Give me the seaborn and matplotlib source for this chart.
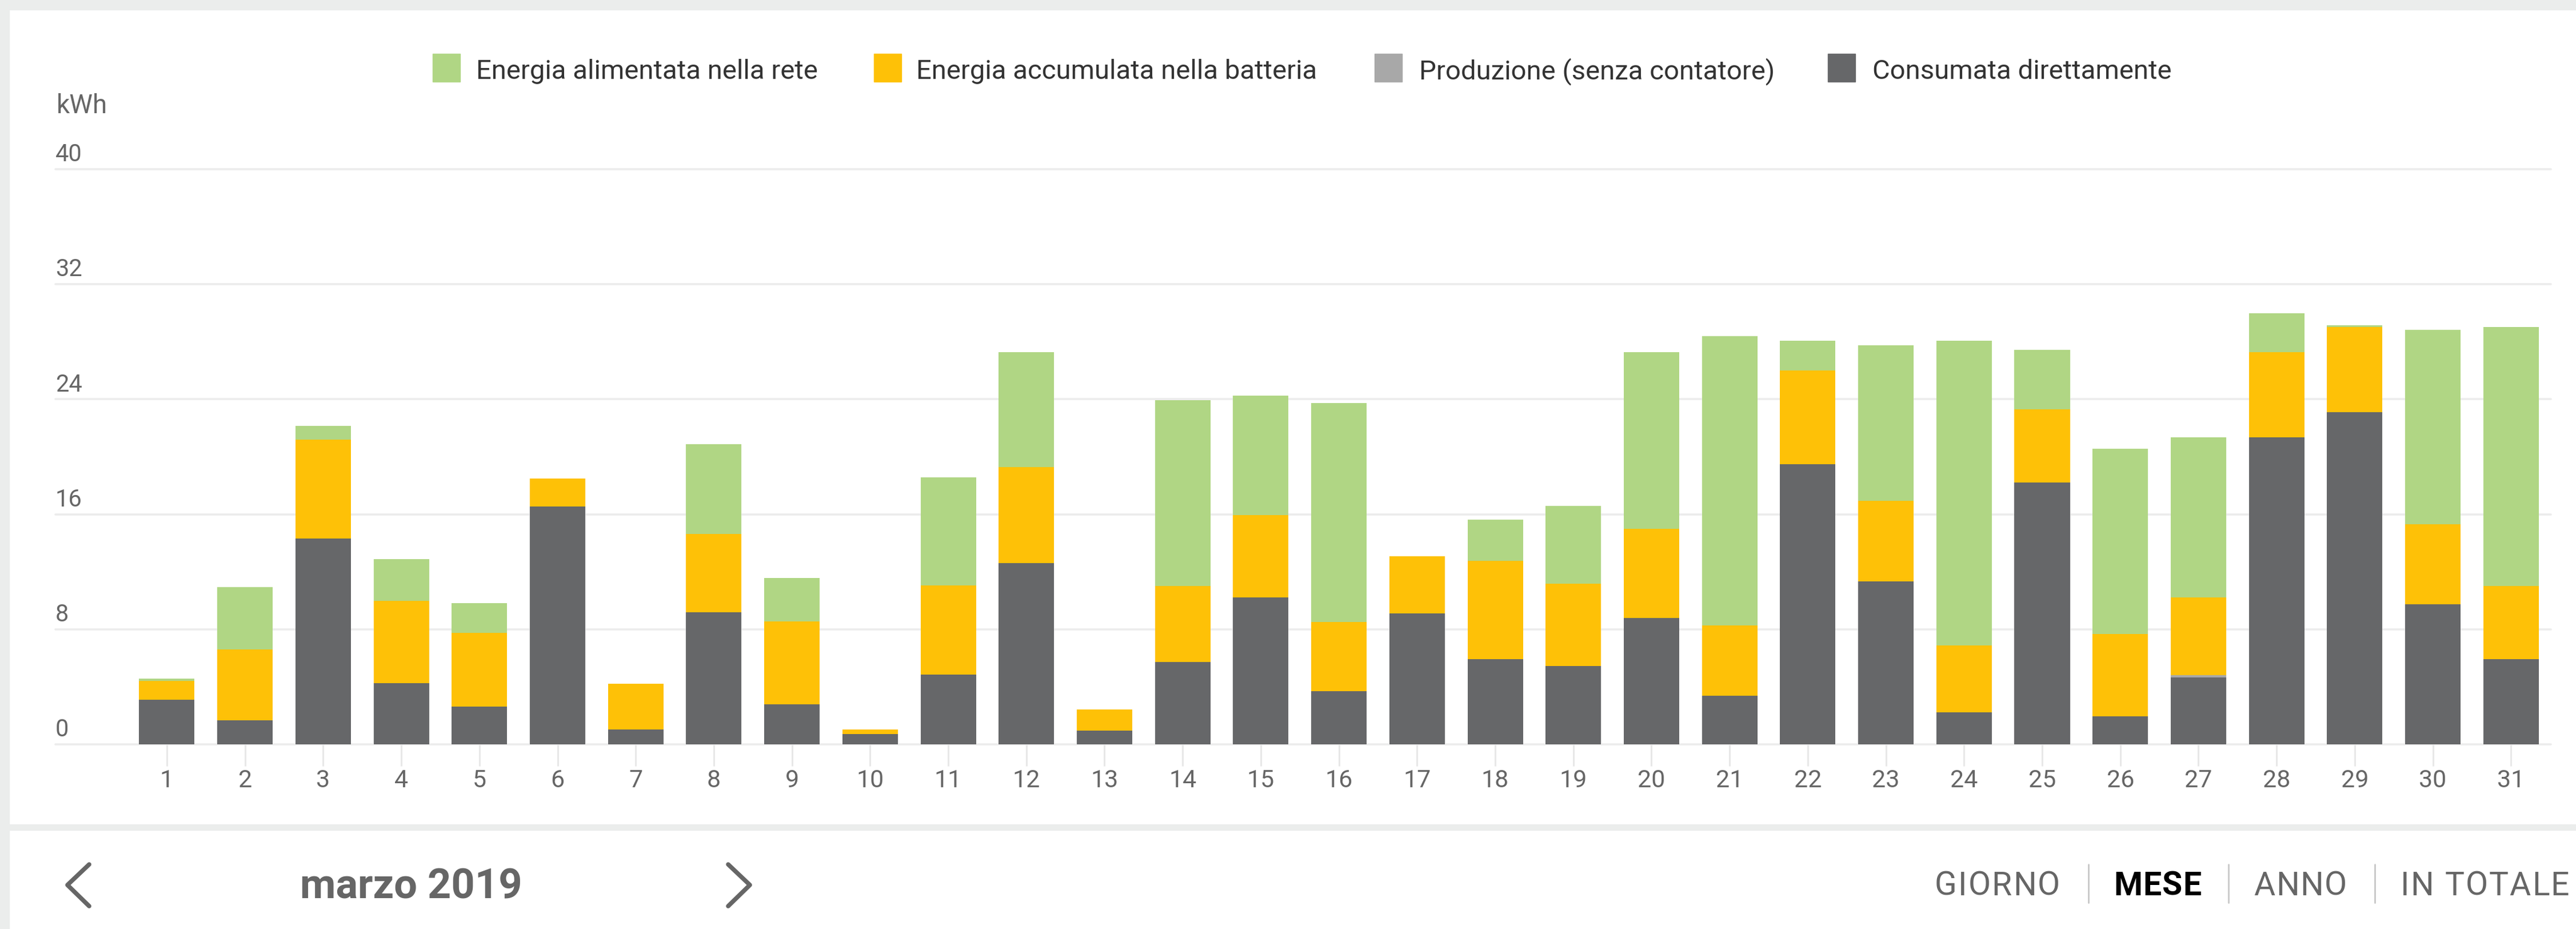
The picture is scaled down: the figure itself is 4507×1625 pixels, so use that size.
import matplotlib
matplotlib.use("Agg")
import matplotlib.pyplot as plt
from matplotlib.patches import Rectangle
from matplotlib.lines import Line2D
import seaborn as sns
import pandas as pd
import numpy as np

# ---- data (kWh per day, marzo 2019) ----
days = [str(d) for d in range(1, 32)]
consumata = [3.10, 1.66, 14.31, 4.25, 2.64, 16.55, 1.03, 9.19, 2.79, 0.70, 4.85,
             12.61, 0.97, 5.74, 10.23, 3.69, 9.09, 5.91, 5.44, 8.78, 3.37,
             19.47, 11.33, 2.24, 18.20, 1.94, 4.66, 21.37, 23.12, 9.76, 5.91]
produzione = [0, 0, 0, 0, 0, 0, 0, 0, 0, 0, 0,
              0, 0, 0, 0, 0, 0, 0, 0, 0, 0,
              0, 0, 0, 0, 0, 0.15, 0, 0, 0, 0]
batteria = [1.33, 4.96, 6.87, 5.75, 5.10, 1.92, 3.20, 5.45, 5.75, 0.34, 6.22,
            6.69, 1.45, 5.29, 5.72, 4.81, 4.01, 6.85, 5.72, 6.22, 4.92,
            6.52, 5.59, 4.65, 5.09, 5.72, 5.40, 5.89, 5.89, 5.54, 5.12]
rete = [0.13, 4.33, 0.98, 2.87, 2.09, 0, 0, 6.24, 3.05, 0, 7.49,
        7.96, 0, 12.89, 8.29, 15.24, 0, 2.87, 5.44, 12.26, 20.08,
        2.07, 10.82, 21.17, 4.14, 12.91, 11.14, 2.72, 0.15, 13.54, 17.98]
series_labels = ["Energia alimentata nella rete", "Energia accumulata nella batteria",
                 "Produzione (senza contatore)", "Consumata direttamente"]
y_ticks = [0, 8, 16, 24, 32, 40]
nav_labels = ["GIORNO", "MESE", "ANNO", "IN TOTALE"]

C_GREEN = "#b0d684"
C_YELLOW = "#fec107"
C_GRAY = "#a8a8a8"
C_DARK = "#666769"
colors = [C_GREEN, C_YELLOW, C_GRAY, C_DARK]

df = pd.DataFrame({"giorno": days, "consumata": consumata, "produzione": produzione,
                   "batteria": batteria, "rete": rete})
df["top_dark"] = df["consumata"]
df["top_gray"] = df["top_dark"] + df["produzione"]
df["top_yellow"] = df["top_gray"] + df["batteria"]
df["top_green"] = df["top_yellow"] + df["rete"]

sns.set_theme(style="white")
plt.rcParams["font.family"] = ["Roboto", "DejaVu Sans"]

W, H = 4507, 1625
fig = plt.figure(figsize=(W / 100, H / 100), dpi=100)
fig.patch.set_facecolor("white")

def fx(x):
    return x / W

def fy(y):
    return 1 - y / H

BG = "#ebedec"
fig.patches.append(Rectangle((0, fy(17)), 1, 17 / H, transform=fig.transFigure, color=BG, zorder=0))
fig.patches.append(Rectangle((0, 0), fx(16), 1, transform=fig.transFigure, color=BG, zorder=0))
fig.patches.append(Rectangle((0, fy(1452)), 1, 10 / H, transform=fig.transFigure, color=BG, zorder=0))

ax = fig.add_axes([fx(97), fy(1302), fx(4463 - 97), (1302 - 296) / H])
ax.set_facecolor("none")

layers = [("top_green", C_GREEN), ("top_yellow", C_YELLOW), ("top_gray", C_GRAY), ("top_dark", C_DARK)]
for col, c in layers:
    sns.barplot(data=df, x="giorno", y=col, order=days, color=c, saturation=1,
                width=0.71, linewidth=0, ax=ax, zorder=2)

ax.set_xlim(-1.426, 30.51)
ax.set_ylim(0, 40)
for s in ax.spines.values():
    s.set_visible(False)
ax.set_xlabel("")
ax.set_ylabel("")
ax.set_yticks([])
for v in y_ticks:
    ax.axhline(v, color="#ececec", lw=2.6, zorder=0, clip_on=False)
    ax.annotate(str(v), xy=(0, v), xycoords=("axes fraction", "data"),
                xytext=(0, 10), textcoords="offset points", ha="left", va="baseline",
                fontsize=30, color="#666666")
ax.tick_params(axis="x", length=27, width=2.2, color="#e8e8e8", pad=4,
               labelsize=31, labelcolor="#666666", bottom=True)

fig.text(fx(99), fy(198), "kWh", fontsize=33, color="#666666", ha="left", va="baseline")

# legend
sq_x = [757, 1529, 2405, 3198]
tx_x = [833, 1603, 2483, 3276]
for lab, c, sx, tx in zip(series_labels, colors, sq_x, tx_x):
    fig.patches.append(Rectangle((fx(sx), fy(143)), 48 / W, 49 / H, transform=fig.transFigure,
                                 color=c, zorder=3))
    fig.text(fx(tx), fy(138), lab, fontsize=34, color="#333333", ha="left", va="baseline")

# bottom navigation
fig.text(fx(525), fy(1571), "marzo 2019", fontsize=52, fontweight="bold", color="#666666",
         ha="left", va="baseline")
fig.lines.append(Line2D([fx(156), fx(118), fx(156)], [fy(1512), fy(1548), fy(1585)],
                        transform=fig.transFigure, color="#666666", lw=5.5,
                        solid_capstyle="round", solid_joinstyle="round"))
fig.lines.append(Line2D([fx(1274), fx(1312), fx(1274)], [fy(1512), fy(1548), fy(1585)],
                        transform=fig.transFigure, color="#666666", lw=5.5,
                        solid_capstyle="round", solid_joinstyle="round"))

renderer = fig.canvas.get_renderer()

def spaced_text(x0, x1, y, s, **kw):
    """Draw s letter by letter with tracking so it spans x0..x1 (pixels)."""
    widths = []
    for ch in s:
        t = fig.text(0, 0, ch if ch != " " else "\u00a0", **kw)
        widths.append(t.get_window_extent(renderer).width if ch != " " else None)
        t.remove()
    sp_w = 0.27 * kw["fontsize"] * 100 / 72
    widths = [w if w is not None else sp_w for w in widths]
    gap = (x1 - x0 - sum(widths)) / max(len(s) - 1, 1)
    x = x0
    for ch, w in zip(s, widths):
        if ch != " ":
            fig.text(fx(x), fy(y), ch, ha="left", va="baseline", **kw)
        x += w + gap

nav_spans = [(3385, 3604), (3698, 3852), (3943, 4106), (4200, 4495)]
nav_styles = [("normal", "#666666"), ("bold", "#000000"), ("normal", "#666666"), ("normal", "#666666")]
for lab, (a, b), (w, c) in zip(nav_labels, nav_spans, nav_styles):
    spaced_text(a, b, 1566, lab, fontsize=41, fontweight=w, color=c)
for x in [3654, 3899, 4155]:
    fig.lines.append(Line2D([fx(x), fx(x)], [fy(1512), fy(1579)], transform=fig.transFigure,
                            color="#c8c8c8", lw=2))

fig.savefig("out.png", dpi=100, facecolor="white")
